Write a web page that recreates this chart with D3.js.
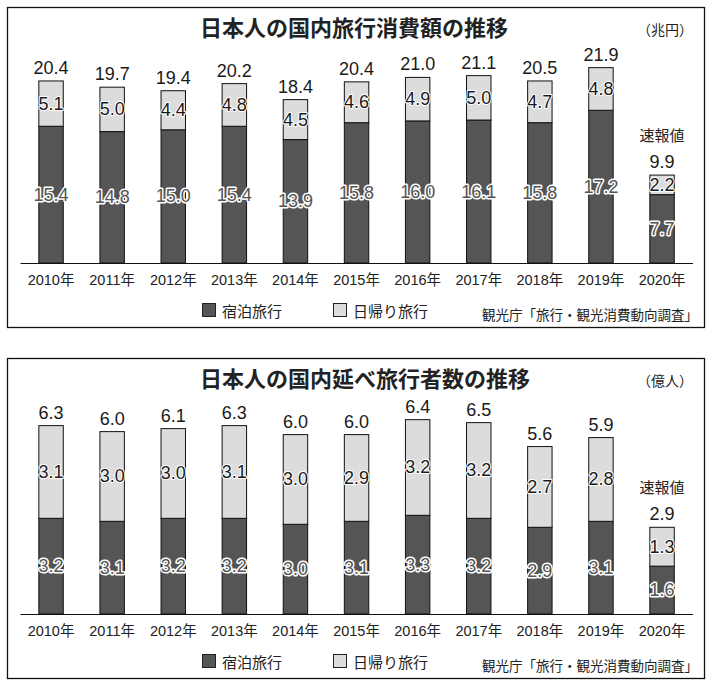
<!DOCTYPE html>
<html><head><meta charset="utf-8">
<script src="https://cdn.jsdelivr.net/npm/d3@7/dist/d3.min.js"></script>
<style>
html,body{margin:0;padding:0;background:#fff;}
svg{display:block;}
</style></head>
<body>
<svg id="c" width="719" height="686"></svg>
<script>
const years = ["2010年","2011年","2012年","2013年","2014年","2015年","2016年","2017年","2018年","2019年","2020年"];
const spendStay  = [15.4,14.8,15.0,15.4,13.9,15.8,16.0,16.1,15.8,17.2,7.7];
const spendDay   = [5.1,5.0,4.4,4.8,4.5,4.6,4.9,5.0,4.7,4.8,2.2];
const spendTotal = [20.4,19.7,19.4,20.2,18.4,20.4,21.0,21.1,20.5,21.9,9.9];
const tripsStay  = [3.2,3.1,3.2,3.2,3.0,3.1,3.3,3.2,2.9,3.1,1.6];
const tripsDay   = [3.1,3.0,3.0,3.1,3.0,2.9,3.2,3.2,2.7,2.8,1.3];
const tripsTotal = [6.3,6.0,6.1,6.3,6.0,6.0,6.4,6.5,5.6,5.9,2.9];
const seriesNames = ["宿泊旅行","日帰り旅行"];
const prelimLabel = "速報値";
const source = "観光庁「旅行・観光消費動向調査」";

const DARK = "#555555", LIGHT = "#dcdcdc";
const NUM = "'Liberation Sans','Noto Sans CJK JP',sans-serif";
const CJK = "'Noto Sans CJK JP','Liberation Sans',sans-serif";
const fmt = d3.format(".1f");
const svg = d3.select("#c");

function panel(o){
  const g = svg.append("g").attr("transform",`translate(0,${o.top})`);
  g.append("rect").attr("x",7.5).attr("y",0.5).attr("width",697).attr("height",320)
    .attr("fill","none").attr("stroke","#111").attr("stroke-width",1.3);
  g.append("text").attr("x",200).attr("y",19).attr("dominant-baseline","central")
    .attr("font-family",CJK).attr("font-weight","bold").attr("font-size",22).attr("fill","#222")
    .text(o.title);
  g.append("text").attr("x",693).attr("y",22).attr("text-anchor","end").attr("dominant-baseline","central")
    .attr("font-family",CJK).attr("font-size",14).attr("fill","#222").text(o.unit);

  const base = o.base;
  const x = d3.scaleBand().domain(years).range([20.5,692.6]).paddingInner(0.6).paddingOuter(0.3);
  const y = d3.scaleLinear().domain([0,o.max]).range([base, base - o.max*o.ppu]);

  const data = years.map((yr,i)=>({yr, s:o.stay[i], d:o.day[i], t:o.total[i]}));
  const bars = g.selectAll("g.bar").data(data).join("g").attr("class","bar");
  bars.append("rect").attr("x",d=>x(d.yr)).attr("width",x.bandwidth())
    .attr("y",d=>y(d.s)).attr("height",d=>y(0)-y(d.s))
    .attr("fill",DARK).attr("stroke","#111").attr("stroke-width",1);
  bars.append("rect").attr("x",d=>x(d.yr)).attr("width",x.bandwidth())
    .attr("y",d=>y(d.s+d.d)).attr("height",d=>y(d.s)-y(d.s+d.d))
    .attr("fill",LIGHT).attr("stroke","#111").attr("stroke-width",1);
  // dark labels
  bars.append("text").attr("x",d=>x(d.yr)+x.bandwidth()/2).attr("y",d=>(y(0)+y(d.s))/2)
    .attr("text-anchor","middle").attr("dominant-baseline","central")
    .attr("font-family",NUM).attr("font-size",18).attr("fill","#555")
    .attr("stroke","#fff").attr("stroke-width",3).attr("paint-order","stroke").attr("stroke-linejoin","round")
    .text(d=>fmt(d.s));
  // light labels
  bars.append("text").attr("x",d=>x(d.yr)+x.bandwidth()/2).attr("y",d=>(y(d.s)+y(d.s+d.d))/2)
    .attr("text-anchor","middle").attr("dominant-baseline","central")
    .attr("font-family",NUM).attr("font-size",18).attr("fill","#1a1a1a")
    .attr("stroke","#fff").attr("stroke-width",2).attr("paint-order","stroke").attr("stroke-linejoin","round")
    .text(d=>fmt(d.d));
  // totals
  bars.append("text").attr("x",d=>x(d.yr)+x.bandwidth()/2).attr("y",d=>y(d.s+d.d)-7)
    .attr("text-anchor","middle")
    .attr("font-family",NUM).attr("font-size",18).attr("fill","#1a1a1a")
    .text(d=>fmt(d.t));
  // prelim label
  const last = data[data.length-1];
  g.append("text").attr("x",x(last.yr)+x.bandwidth()/2).attr("y",y(last.s+last.d)-34)
    .attr("text-anchor","middle").attr("font-family",CJK).attr("font-size",15).attr("fill","#222")
    .text(prelimLabel);

  // axis
  const ax = g.append("g").attr("transform",`translate(0,${base})`)
    .call(d3.axisBottom(x).tickSize(0).tickPadding(12));
  ax.select(".domain").attr("d","M20.5,0.5H693").attr("stroke","#111").attr("stroke-width",1.2);
  ax.selectAll("text").attr("font-family",NUM).attr("font-size",14.5).attr("fill","#222");

  // legend
  const lg = g.append("g").attr("transform",`translate(0,${base+47})`);
  const items = [{n:seriesNames[0],c:DARK,x:202},{n:seriesNames[1],c:LIGHT,x:333}];
  items.forEach(it=>{
    lg.append("rect").attr("x",it.x+0.5).attr("y",-6.5).attr("width",13).attr("height",13)
      .attr("fill",it.c).attr("stroke","#222").attr("stroke-width",1);
    lg.append("text").attr("x",it.x+20).attr("y",0).attr("dominant-baseline","central")
      .attr("font-family",CJK).attr("font-size",15).attr("fill","#222").text(it.n);
  });
  g.append("text").attr("x",698).attr("y",base+51).attr("text-anchor","end").attr("dominant-baseline","central")
    .attr("font-family",CJK).attr("font-size",13.5).attr("fill","#222").text(source);
}

panel({top:7, title:"日本人の国内旅行消費額の推移", unit:"（兆円）", base:256, max:25, ppu:8.88,
  stay:spendStay, day:spendDay, total:spendTotal});
panel({top:358, title:"日本人の国内延べ旅行者数の推移", unit:"（億人）", base:256, max:7, ppu:29.9,
  stay:tripsStay, day:tripsDay, total:tripsTotal});
</script>
</body></html>
